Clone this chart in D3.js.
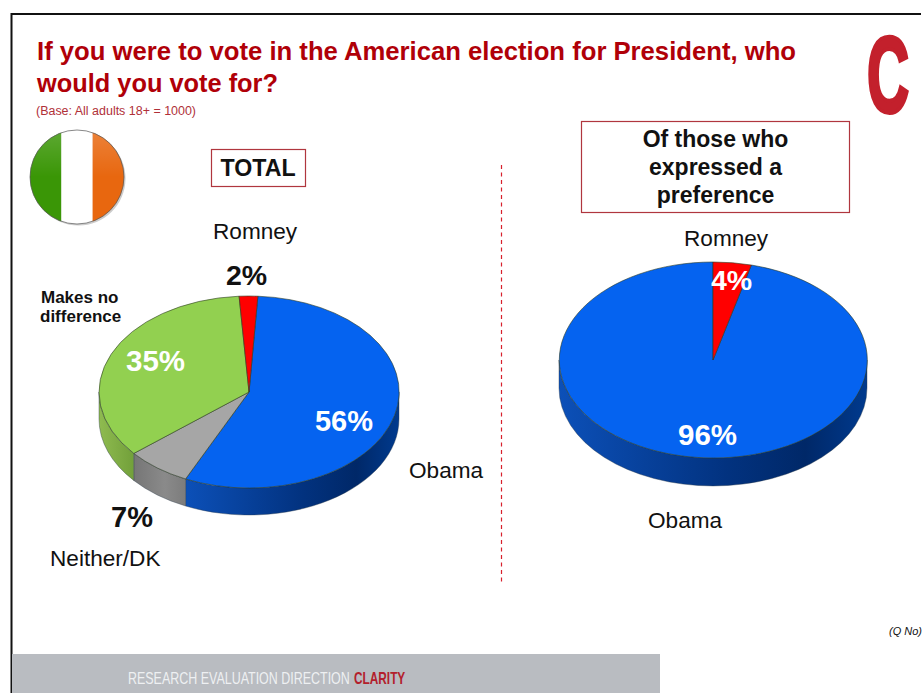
<!DOCTYPE html>
<html>
<head>
<meta charset="utf-8">
<script src="https://cdn.jsdelivr.net/npm/d3@7"></script>
<style>
html,body{margin:0;padding:0;background:#fff;overflow:hidden}
svg{display:block}
text{font-family:"Liberation Sans",Arial,sans-serif}
</style>
</head>
<body>
<svg id="chart" width="922" height="693"></svg>
<script>
// Survey answers, in drawing order around each pie
const totalCategories = ["Obama", "Neither/DK", "Makes no difference", "Romney"];
const totalValues = [56, 7, 35, 2];
const preferenceCategories = ["Obama", "Romney"];
const preferenceValues = [96, 4];
const titleLines = ["If you were to vote in the American election for President, who", "would you vote for?"];
const boxLines = ["Of those who", "expressed a", "preference"];

const svg = d3.select("#chart");
const defs = svg.append("defs");
const rad = d => d * Math.PI / 180;

const faceColour = {"Obama":"#0563f0","Neither/DK":"#a6a6a6","Makes no difference":"#92d050","Romney":"#ff0000"};
const wallStops = {
  "Obama":[["0%","#0c50b8"],["55%","#02327f"],["80%","#002868"],["100%","#003a8e"]],
  "Neither/DK":[["0%","#767676"],["60%","#8a8a8a"],["100%","#7c7c7c"]],
  "Makes no difference":[["0%","#8fbb50"],["100%","#72a03a"]],
  "Romney":[["0%","#c00000"],["100%","#c00000"]]
};

function drawPie(id, cats, vals, g) {
  const slices = d3.pie().sort(null).startAngle(rad(g.start)).endAngle(rad(g.start + 360))(vals)
    .map((s, i) => ({...s, cat: cats[i]}));
  const px = a => g.cx + g.rx * Math.sin(a);
  const py = a => g.cy - g.ry * Math.cos(a);

  // Rim: only the part of each slice between 3 o'clock and 9 o'clock faces the viewer
  const walls = [];
  slices.forEach(s => {
    [[s.startAngle, s.endAngle], [s.startAngle - 2 * Math.PI, s.endAngle - 2 * Math.PI]].forEach(([a, b]) => {
      const a0 = Math.max(a, Math.PI / 2), a1 = Math.min(b, 3 * Math.PI / 2);
      if (a1 > a0) walls.push({cat: s.cat, a0, a1});
    });
  });
  walls.forEach((w, i) => {
    const x0 = Math.min(px(w.a0), px(w.a1)), x1 = Math.max(px(w.a0), px(w.a1));
    const gid = `${id}-wall-${i}`;
    defs.append("linearGradient").attr("id", gid).attr("gradientUnits", "userSpaceOnUse")
      .attr("x1", x0).attr("x2", x1).attr("y1", 0).attr("y2", 0)
      .selectAll("stop").data(wallStops[w.cat]).join("stop")
      .attr("offset", d => d[0]).attr("stop-color", d => d[1]);
    svg.append("path")
      .attr("d", `M${px(w.a0)},${py(w.a0)}A${g.rx},${g.ry} 0 0 1 ${px(w.a1)},${py(w.a1)}` +
                 `L${px(w.a1)},${py(w.a1) + g.depth}A${g.rx},${g.ry} 0 0 0 ${px(w.a0)},${py(w.a0) + g.depth}Z`)
      .attr("fill", `url(#${gid})`)
      .attr("stroke", "#2a3a4a").attr("stroke-width", 0.4);
  });

  // Top face: unit circle arcs squashed into an ellipse
  const arc = d3.arc().innerRadius(0).outerRadius(1);
  svg.append("g").attr("transform", `translate(${g.cx},${g.cy}) scale(${g.rx},${g.ry})`)
    .selectAll("path").data(slices).join("path")
    .attr("d", arc)
    .attr("fill", d => faceColour[d.cat])
    .attr("stroke", "#2b3b22").attr("stroke-width", 0.6)
    .attr("vector-effect", "non-scaling-stroke");
}

function label(txt, x, y, size, opts = {}) {
  return svg.append("text").attr("x", x).attr("y", y).text(txt)
    .attr("font-size", size)
    .attr("font-weight", opts.weight || "normal")
    .attr("font-style", opts.style || "normal")
    .attr("fill", opts.fill || "#111")
    .attr("text-anchor", opts.anchor || "start")
    .attr("textLength", opts.len || null)
    .attr("lengthAdjust", opts.len ? "spacingAndGlyphs" : null);
}

// Slide frame and footer band
svg.append("path").attr("d", "M11.5,693V14H921").attr("fill", "none").attr("stroke", "#111").attr("stroke-width", 2);
svg.append("rect").attr("x", 12).attr("y", 654).attr("width", 648).attr("height", 39).attr("fill", "#b9bcc1");
svg.append("text").attr("transform", "translate(128,684) scale(0.78,1)")
  .attr("font-size", 16).attr("fill", "#eef0f2").text("RESEARCH EVALUATION DIRECTION");
svg.append("text").attr("transform", "translate(354,684) scale(0.74,1)")
  .attr("font-size", 16).attr("font-weight", "bold").attr("fill", "#b3202c").text("CLARITY");

// Heading
titleLines.forEach((t, i) => label(t, 37, 60 + i * 32, 25.6, {weight:"bold", fill:"#b00008", len: i ? 241 : 759}));
label("(Base: All adults 18+ = 1000)", 36, 115, 12, {fill:"#b03038", len:160});

// Corner logotype, a tall narrow C
svg.append("text").attr("transform", "translate(867,112) scale(0.54,1)")
  .attr("font-size", 108).attr("font-weight", "bold").attr("fill", "#c3202c")
  .attr("stroke", "#c3202c").attr("stroke-width", 4).text("C");

// Irish tricolour roundel
const flag = {cx:77, cy:177, r:47};
const clip = defs.append("clipPath").attr("id", "flag-clip");
clip.append("circle").attr("cx", flag.cx).attr("cy", flag.cy).attr("r", flag.r);
const gloss = defs.append("linearGradient").attr("id", "flag-gloss").attr("x1", 0).attr("x2", 0).attr("y1", 0).attr("y2", 1);
gloss.append("stop").attr("offset", "0%").attr("stop-color", "#fff").attr("stop-opacity", 0.18);
gloss.append("stop").attr("offset", "50%").attr("stop-color", "#fff").attr("stop-opacity", 0);
svg.append("circle").attr("cx", flag.cx + 1.5).attr("cy", flag.cy + 1.5).attr("r", flag.r).attr("fill", "#ccc");
const flagG = svg.append("g").attr("clip-path", "url(#flag-clip)");
["#3a9606", "#ffffff", "#e8670f"].forEach((c, i) => {
  flagG.append("rect").attr("x", flag.cx - flag.r + i * 31.3).attr("y", flag.cy - flag.r)
    .attr("width", 31.6).attr("height", flag.r * 2).attr("fill", c);
});
flagG.append("rect").attr("x", flag.cx - flag.r).attr("y", flag.cy - flag.r)
  .attr("width", flag.r * 2).attr("height", flag.r * 2).attr("fill", "url(#flag-gloss)");
svg.append("circle").attr("cx", flag.cx).attr("cy", flag.cy).attr("r", flag.r)
  .attr("fill", "none").attr("stroke", "#555").attr("stroke-width", 0.7);

// Boxed headings above each pie
svg.append("rect").attr("x", 211.5).attr("y", 149.5).attr("width", 94).attr("height", 37)
  .attr("fill", "#fff").attr("stroke", "#b0363e").attr("stroke-width", 1.2);
label("TOTAL", 258, 176, 23.2, {weight:"bold", anchor:"middle"});
svg.append("rect").attr("x", 581.5).attr("y", 121.5).attr("width", 268).attr("height", 91)
  .attr("fill", "#fff").attr("stroke", "#b0363e").attr("stroke-width", 1.2);
boxLines.forEach((t, i) => label(t, 715.5, 146.5 + i * 28, 23, {weight:"bold", anchor:"middle"}));

// Divider between the two pies
svg.append("line").attr("x1", 501.5).attr("x2", 501.5).attr("y1", 165).attr("y2", 583)
  .attr("stroke", "#d8202c").attr("stroke-width", 1.2).attr("stroke-dasharray", "4,3.5");

drawPie("total", totalCategories, totalValues, {cx:249, cy:392, rx:150, ry:96, depth:27, start:3.4});
drawPie("pref", preferenceCategories, preferenceValues, {cx:713, cy:360, rx:154, ry:98, depth:28, start:14.4});

// Category names
label("Romney", 213, 239, 22.6);
label("Makes no", 41, 303, 17, {weight:"bold"});
label("difference", 40, 322, 17, {weight:"bold"});
label("Obama", 409, 478, 22.6);
label("Neither/DK", 50, 566, 22.6);
label("Romney", 684, 246, 22.6);
label("Obama", 648, 528, 22.6);

// Value labels
const pct = v => v + "%";
label(pct(totalValues[3]), 246.5, 285, 28.5, {weight:"bold", anchor:"middle"});
label(pct(totalValues[2]), 155.5, 371, 29.5, {weight:"bold", anchor:"middle", fill:"#fff"});
label(pct(totalValues[0]), 344, 431, 29, {weight:"bold", anchor:"middle", fill:"#fff"});
label(pct(totalValues[1]), 132, 527, 29, {weight:"bold", anchor:"middle"});
label(pct(preferenceValues[1]), 731.5, 290, 28.5, {weight:"bold", anchor:"middle", fill:"#fff"});
label(pct(preferenceValues[0]), 707.5, 445, 29.5, {weight:"bold", anchor:"middle", fill:"#fff"});

// Question reference running off the slide edge
label("(Q No)", 889, 635, 11, {style:"italic"});
</script>
</body>
</html>
